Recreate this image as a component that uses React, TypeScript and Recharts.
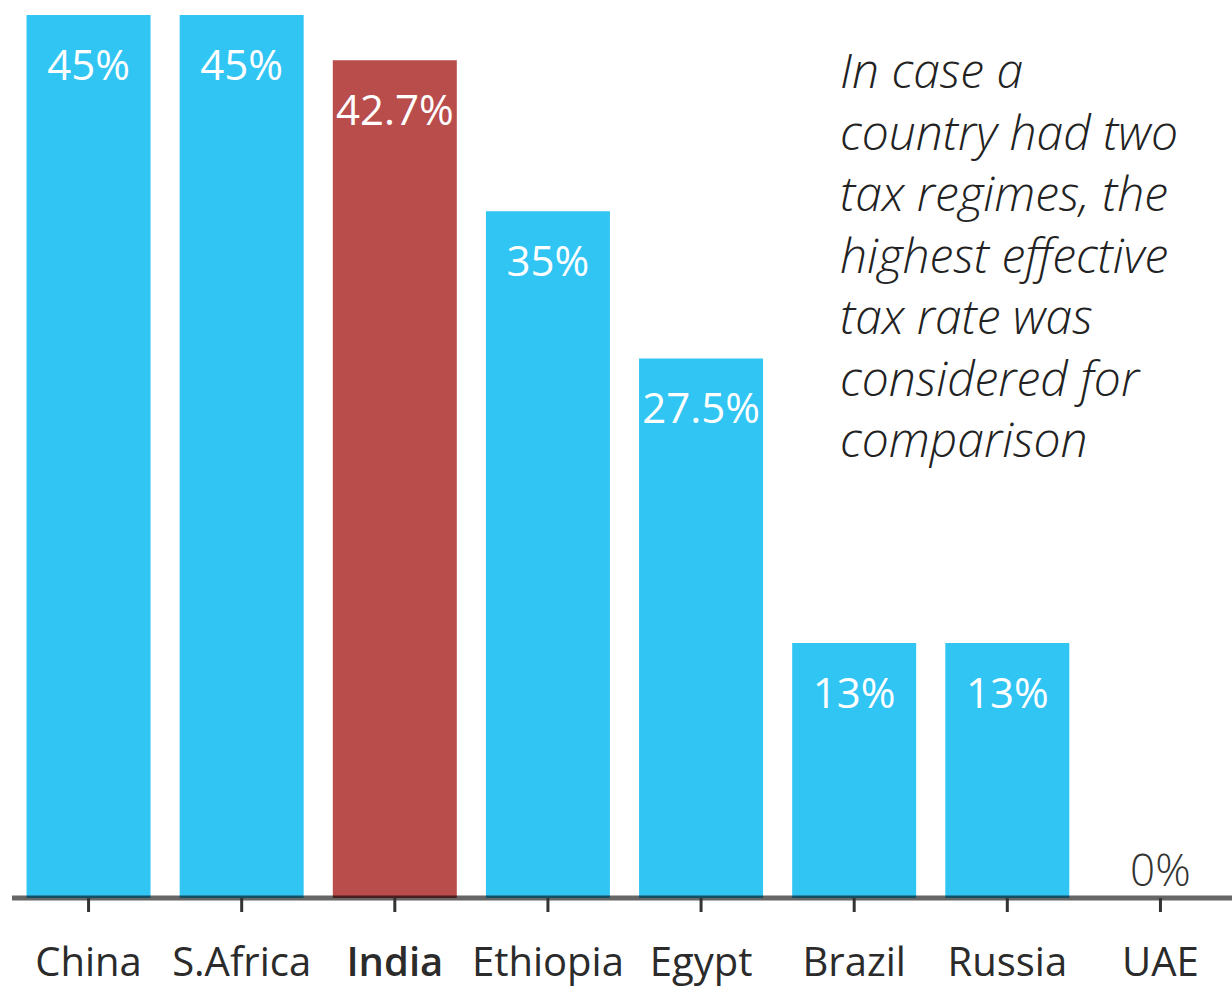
import { BarChart, Bar, XAxis, YAxis, Cell, LabelList } from "recharts";

const countries = ["China", "S.Africa", "India", "Ethiopia", "Egypt", "Brazil", "Russia", "UAE"];
const rates = [45, 45, 42.7, 35, 27.5, 13, 13, 0];
const highlight = "India";

const noteLines = [
	"In case a",
	"country had two",
	"tax regimes, the",
	"highest effective",
	"tax rate was",
	"considered for",
	"comparison",
];

const BLUE = "#31c5f4";
const RED = "#b84d4b";
const FONT = "'Open Sans', sans-serif";

const data = countries.map((name, i) => ({ name, rate: rates[i] }));

const RateLabel = (props: any) => {
	const { x, y, width, value } = props;
	if (!value) return null;
	return (
		<text
			x={x + width / 2}
			y={y + 65}
			textAnchor="middle"
			fontSize={42}
			fontWeight={500}
			fontFamily={FONT}
			fill="#fff"
		>
			{value}%
		</text>
	);
};

// zero-height bars get no label, so the 0% sits above the axis via the tick
const CountryTick = (props: any) => {
	const { x, y, payload, index } = props;
	const bold = payload.value === highlight;
	return (
		<g>
			{rates[index] === 0 && (
				<text x={x} y={y - 28} textAnchor="middle" fontSize={44} fontWeight={300} fontFamily={FONT} fill="#333">
					0%
				</text>
			)}
			<text
				x={x}
				y={y + 62}
				textAnchor="middle"
				fontSize={40}
				fontWeight={bold ? 600 : 400}
				fontFamily={FONT}
				fill="#2b2b2b"
			>
				{payload.value}
			</text>
		</g>
	);
};

export default function App() {
	return (
		<div style={{ position: "absolute", left: 0, top: 0, width: 1232, height: 988, overflow: "hidden", background: "#fff" }}>
			<BarChart
				width={1240}
				height={988}
				data={data}
				margin={{ top: 15, right: 3, left: 12, bottom: 0 }}
				barCategoryGap="9.5%"
			>
				<YAxis hide domain={[0, 45]} />
				<XAxis
					dataKey="name"
					height={90}
					axisLine={{ stroke: "rgba(0,0,0,0.6)", strokeWidth: 5 }}
					tickLine={{ stroke: "#333", strokeWidth: 3 }}
					tickSize={14}
					tick={<CountryTick />}
					interval={0}
				/>
				<Bar dataKey="rate" isAnimationActive={false}>
					{data.map((d) => (
						<Cell key={d.name} fill={d.name === highlight ? RED : BLUE} />
					))}
					<LabelList dataKey="rate" content={<RateLabel />} />
				</Bar>
			</BarChart>
			<div
				style={{
					position: "absolute",
					left: 840,
					top: 39,
					fontFamily: FONT,
					fontStyle: "italic",
					fontWeight: 300,
					fontSize: 48,
					lineHeight: "61.5px",
					color: "#222",
				}}
			>
				{noteLines.map((l) => (
					<div key={l}>{l}</div>
				))}
			</div>
		</div>
	);
}
